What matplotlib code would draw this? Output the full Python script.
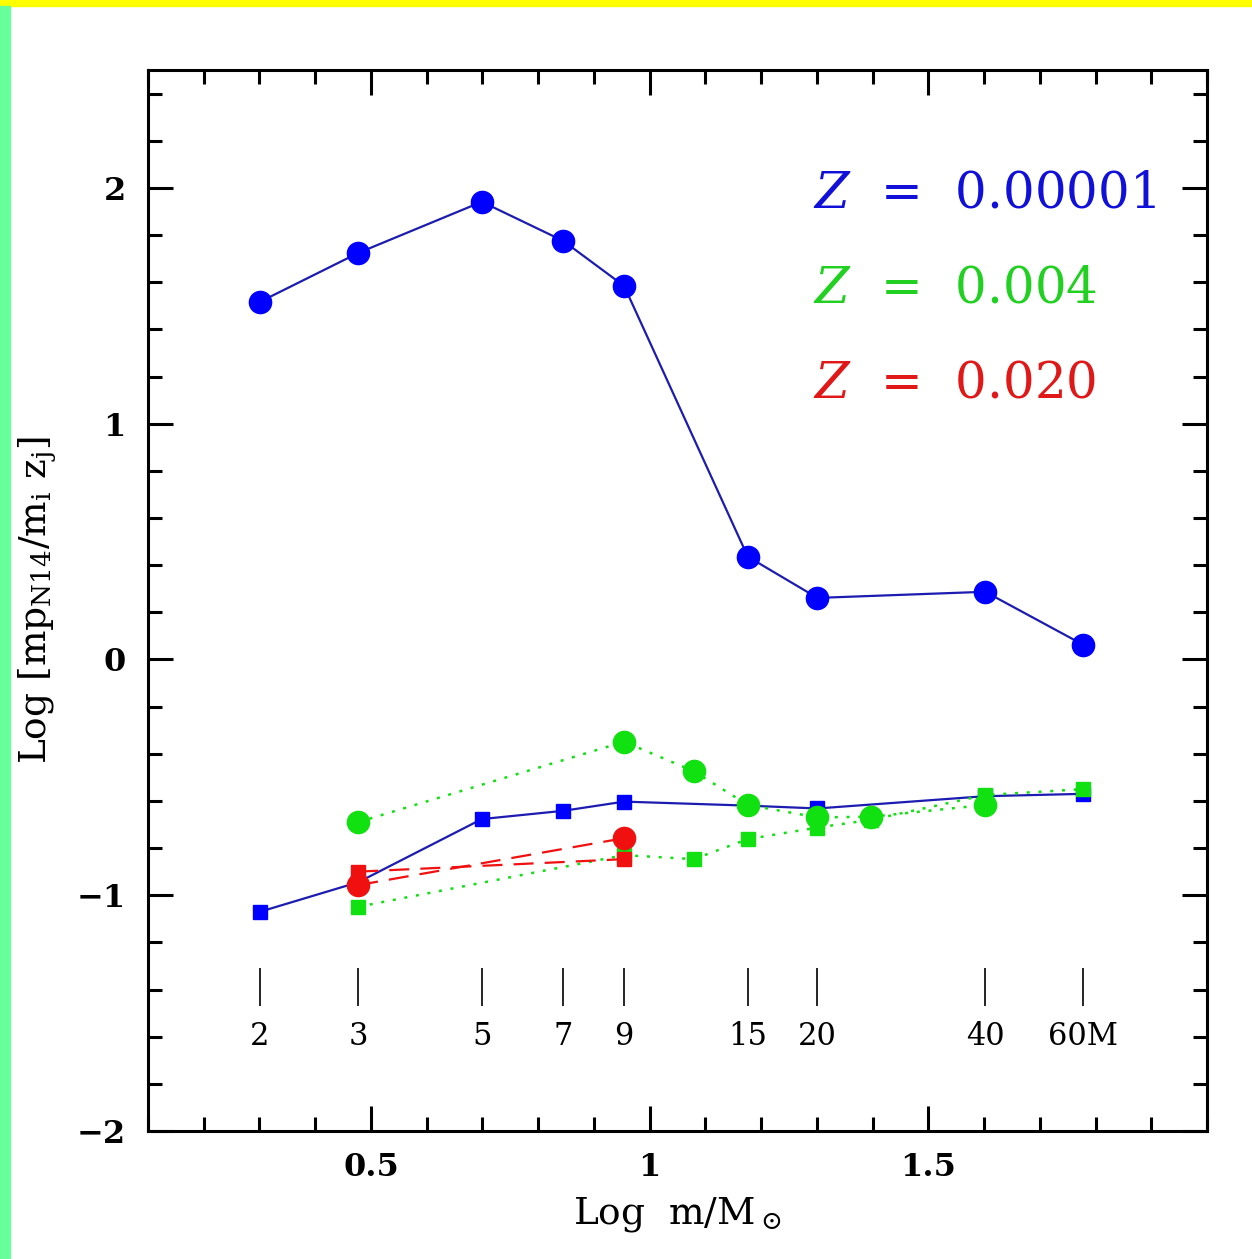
import numpy as np
import matplotlib
matplotlib.use("Agg")
import matplotlib.pyplot as plt
from matplotlib.patches import Rectangle
from matplotlib.ticker import MultipleLocator, FixedLocator, FuncFormatter

plt.rcParams['font.family'] = ['DejaVu Serif']
plt.rcParams['mathtext.fontset'] = 'dejavuserif'

# stellar masses (M_sun) and Log [mp_N14 / m_i z_i]
blue_c_m = [2, 3, 5, 7, 9, 15, 20, 40, 60]
blue_c_y = [1.517, 1.724, 1.941, 1.775, 1.584, 0.436, 0.261, 0.287, 0.062]

blue_s_m = [2, 3, 5, 7, 9, 15, 20, 40, 60]
blue_s_y = [-1.07, -0.945, -0.677, -0.642, -0.603, -0.62, -0.632, -0.58, -0.57]

green_c_m = [3, 9, 12, 15, 20, 25, 40]
green_c_y = [-0.69, -0.349, -0.474, -0.617, -0.670, -0.667, -0.617]

green_s_m = [3, 9, 12, 15, 20, 25, 40, 60]
green_s_y = [-1.049, -0.83, -0.847, -0.762, -0.713, -0.68, -0.575, -0.55]

red_c_m = [3, 9]
red_c_y = [-0.957, -0.758]
red_s_m = [3, 9]
red_s_y = [-0.90, -0.847]

mass_marks = [2, 3, 5, 7, 9, 15, 20, 40, 60]
mass_labels = ['2', '3', '5', '7', '9', '15', '20', '40', '60M']

legend_texts = ['0.00001', '0.004', '0.020']
legend_colors = ['#1010d8', '#22d022', '#e01818']

W, H = 1252, 1259
fig = plt.figure(figsize=(W / 100, H / 100), dpi=100)
fig.patches.append(Rectangle((0, 1 - 6 / H), 1, 6 / H, transform=fig.transFigure,
                             color='#ffff00', zorder=0))
fig.patches.append(Rectangle((0, 0), 10 / W, 1 - 6 / H, transform=fig.transFigure,
                             color='#66ff99', zorder=0))

ax = fig.add_axes([148 / W, 1 - 1131 / H, 1059 / W, 1061 / H])

blue_line = '#1c1cb0'
blue = '#0000ff'
green = '#11e011'
red = '#f01010'

ax.plot(np.log10(blue_c_m), blue_c_y, '-', color=blue_line, lw=1.6,
        marker='o', ms=16, mfc=blue, mec=blue)
ax.plot(np.log10(blue_s_m), blue_s_y, '-', color=blue_line, lw=1.6,
        marker='s', ms=10.5, mfc=blue, mec=blue)

ax.plot(np.log10(green_c_m), green_c_y, color=green, lw=1.8, ls=(0, (1.2, 3.5)),
        marker='o', ms=16, mfc=green, mec=green)
ax.plot(np.log10(green_s_m), green_s_y, color=green, lw=1.8, ls=(0, (1.2, 3.5)),
        marker='s', ms=10.5, mfc=green, mec=green)

ax.plot(np.log10(red_c_m), red_c_y, color=red, lw=1.6, ls=(0, (9, 5)),
        marker='o', ms=16, mfc=red, mec=red)
ax.plot(np.log10(red_s_m), red_s_y, color=red, lw=1.6, ls=(0, (9, 5)),
        marker='s', ms=10.5, mfc=red, mec=red)

# mass markers along the bottom
ax.vlines(np.log10(mass_marks), -1.47, -1.31, color='black', lw=1.2)
for m, lab in zip(mass_marks, mass_labels):
    ax.text(np.log10(m), -1.60, lab, ha='center', va='center', fontsize=22)

# metallicity labels
for i, (t, c) in enumerate(zip(legend_texts, legend_colors)):
    ax.text(1.293, 1.915 - i * 0.401, '$Z$  =  ' + t, color=c, fontsize=36,
            ha='left', va='baseline')

ax.set_xlim(0.1, 2.0)
ax.set_ylim(-2, 2.5)
ax.xaxis.set_major_locator(FixedLocator([0.5, 1.0, 1.5]))
ax.xaxis.set_minor_locator(MultipleLocator(0.1))
ax.yaxis.set_major_locator(MultipleLocator(1))
ax.yaxis.set_minor_locator(MultipleLocator(0.2))
fmt = FuncFormatter(lambda v, p: ('%g' % v).replace('-', '\u2212'))
ax.xaxis.set_major_formatter(fmt)
ax.yaxis.set_major_formatter(fmt)

ax.tick_params(which='both', direction='in', top=True, right=True, width=2.2,
               labelsize=23)
ax.tick_params(which='major', length=18)
ax.tick_params(which='minor', length=10)
ax.tick_params(axis='x', pad=15)
ax.tick_params(axis='y', pad=16)
for lab in ax.get_xticklabels() + ax.get_yticklabels():
    lab.set_fontweight('bold')
for s in ax.spines.values():
    s.set_linewidth(2.2)

ax.set_xlabel(r'Log  m/M$_\odot$', fontsize=27)
ax.set_ylabel(r'Log [mp$_{\rm N14}$/m$_{\rm i}$ z$_{\rm j}$]', fontsize=27)
ax.xaxis.set_label_coords(0.5, -0.060)
ax.yaxis.set_label_coords(-0.085, 0.5)

fig.savefig('out.png', dpi=100)
